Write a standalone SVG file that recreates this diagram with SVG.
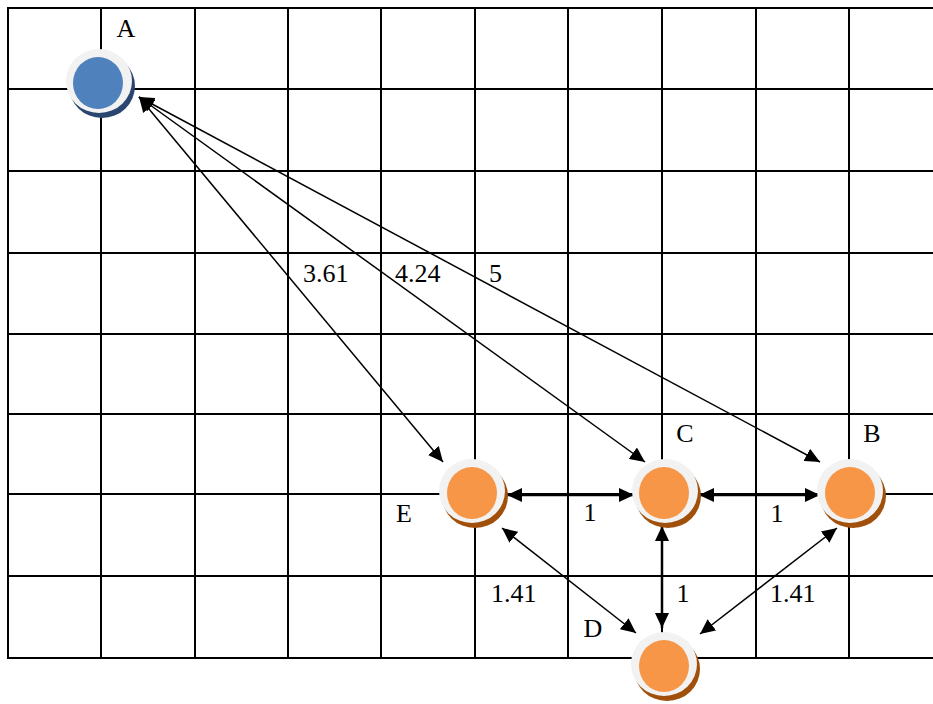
<svg xmlns="http://www.w3.org/2000/svg" width="933" height="704" viewBox="0 0 933 704">
<style>
.grid line{stroke:#000;stroke-width:2}
.ring{fill:#f2f2f2}
.blue .sh{fill:#2a4670}
.blue .core{fill:#4f81bd}
.orange .sh{fill:#a0500a}
.orange .core{fill:#f79646}
text{font-family:'Liberation Serif','Times New Roman',Tinos,'DejaVu Serif',serif;font-size:26px;fill:#000}
.thin{stroke:#000;stroke-width:1.5;fill:none;marker-start:url(#ah);marker-end:url(#ah)}
.thick{stroke:#000;stroke-width:2.5;fill:none;marker-start:url(#ah);marker-end:url(#ah)}
</style>
<defs>
<marker id="ah" viewBox="0 0 15 14" refX="15" refY="7" markerWidth="15" markerHeight="14" markerUnits="userSpaceOnUse" orient="auto-start-reverse">
<path d="M0,0 L15,7 L0,14 z" fill="#000"/>
</marker>
</defs>
<rect width="933" height="704" fill="#fff"/>
<g class="grid">
<line x1="8" y1="8" x2="933" y2="8"/>
<line x1="8" y1="89" x2="933" y2="89"/>
<line x1="8" y1="171" x2="933" y2="171"/>
<line x1="8" y1="253" x2="933" y2="253"/>
<line x1="8" y1="334" x2="933" y2="334"/>
<line x1="8" y1="414" x2="933" y2="414"/>
<line x1="8" y1="494" x2="933" y2="494"/>
<line x1="8" y1="576" x2="933" y2="576"/>
<line x1="8" y1="658" x2="933" y2="658"/>
<line x1="8" y1="7" x2="8" y2="659"/>
<line x1="101" y1="7" x2="101" y2="659"/>
<line x1="195" y1="7" x2="195" y2="659"/>
<line x1="288" y1="7" x2="288" y2="659"/>
<line x1="381" y1="7" x2="381" y2="659"/>
<line x1="475" y1="7" x2="475" y2="659"/>
<line x1="568" y1="7" x2="568" y2="659"/>
<line x1="662" y1="7" x2="662" y2="659"/>
<line x1="756" y1="7" x2="756" y2="659"/>
<line x1="849" y1="7" x2="849" y2="659"/>
</g>
<g id="connectors">
<line class="thin" x1="139" y1="97" x2="443" y2="462"/>
<line class="thin" x1="139" y1="97" x2="645" y2="462"/>
<line class="thin" x1="139" y1="97" x2="820" y2="462"/>
<line class="thick" x1="507" y1="495" x2="634" y2="495"/>
<line class="thick" x1="699" y1="495" x2="820" y2="495"/>
<line class="thick" x1="662" y1="526" x2="662" y2="628"/>
<line class="thin" x1="502" y1="528" x2="636" y2="633"/>
<line class="thin" x1="837" y1="528" x2="700" y2="634"/>
<text x="303" y="282">3.61</text>
<text x="395" y="282">4.24</text>
<text x="489" y="282">5</text>
<text x="590" y="521" text-anchor="middle">1</text>
<text x="777" y="522" text-anchor="middle">1</text>
<text x="683" y="602" text-anchor="middle">1</text>
<text x="491" y="602">1.41</text>
<text x="770" y="602">1.41</text>
</g>
<g id="node-A" class="blue" transform="translate(99,81)">
<ellipse class="sh" cx="3" cy="5" rx="33" ry="32"/>
<ellipse class="ring" cx="0" cy="0" rx="33" ry="32"/>
<ellipse class="core" cx="-1" cy="2" rx="25" ry="26"/>
<text x="27" y="-44" text-anchor="middle">A</text>
</g>
<g id="node-E" class="orange" transform="translate(472,491)">
<ellipse class="sh" cx="3" cy="5" rx="33" ry="32"/>
<ellipse class="ring" cx="0" cy="0" rx="33" ry="32"/>
<ellipse class="core" cx="0" cy="2" rx="25" ry="26"/>
<text x="-68" y="31" text-anchor="middle">E</text>
</g>
<g id="node-C" class="orange" transform="translate(665,491)">
<ellipse class="sh" cx="3" cy="5" rx="33" ry="32"/>
<ellipse class="ring" cx="0" cy="0" rx="33" ry="32"/>
<ellipse class="core" cx="-1" cy="2" rx="25" ry="26"/>
<text x="20" y="-49" text-anchor="middle">C</text>
</g>
<g id="node-B" class="orange" transform="translate(850,491)">
<ellipse class="sh" cx="3" cy="5" rx="33" ry="32"/>
<ellipse class="ring" cx="0" cy="0" rx="33" ry="32"/>
<ellipse class="core" cx="0" cy="2" rx="25" ry="26"/>
<text x="22" y="-49" text-anchor="middle">B</text>
</g>
<g id="node-D" class="orange" transform="translate(664,664)">
<ellipse class="sh" cx="3" cy="5" rx="33" ry="32"/>
<ellipse class="ring" cx="0" cy="0" rx="33" ry="32"/>
<ellipse class="core" cx="0" cy="2" rx="25" ry="26"/>
<text x="-71" y="-27" text-anchor="middle">D</text>
</g>
</svg>
